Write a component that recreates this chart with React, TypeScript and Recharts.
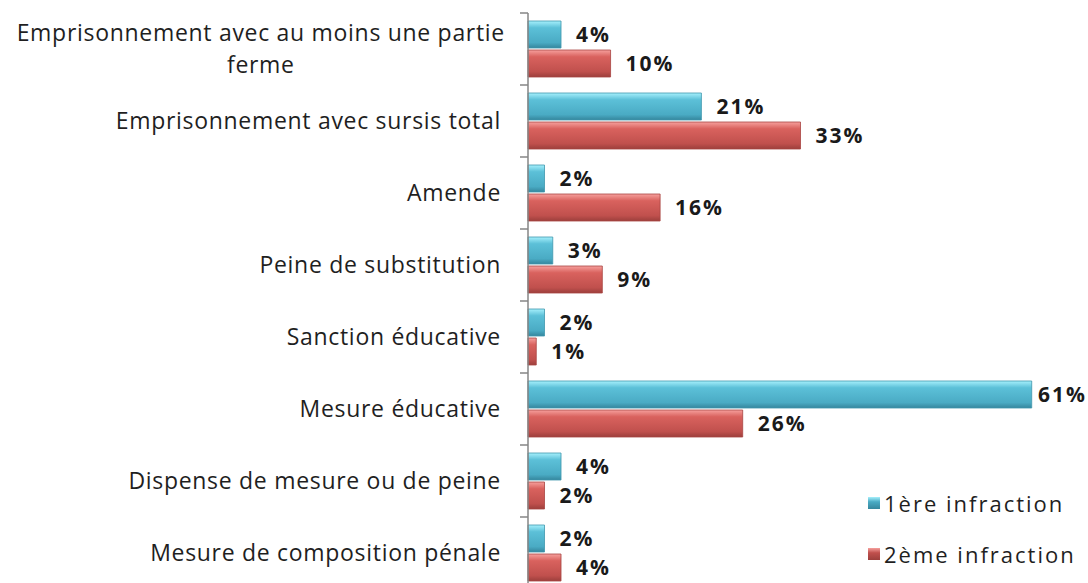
import { BarChart, Bar, XAxis, YAxis, LabelList } from 'recharts';

const categories = [
  'Emprisonnement avec au moins une partie|ferme',
  'Emprisonnement avec sursis total',
  'Amende',
  'Peine de substitution',
  'Sanction éducative',
  'Mesure éducative',
  'Dispense de mesure ou de peine',
  'Mesure de composition pénale',
];
const premiere = [4, 21, 2, 3, 2, 61, 4, 2];
const deuxieme = [10, 33, 16, 9, 1, 26, 2, 4];
const seriesNames = ['1ère infraction', '2ème infraction'];

const data = categories.map((c, i) => ({ cat: c, s1: premiere[i], s2: deuxieme[i] }));

const FONT = '"Open Sans", Lato, sans-serif';
const W = 1088;
const H = 600;
const TOP = 13;
const BOTTOM = 11;
const AXIS_X = 528;
const BAND = (H - TOP - BOTTOM) / categories.length;
const CAT_SIZE = 23;
const CAT_LS = 0.7;

let ctx: CanvasRenderingContext2D | null = null;
function textWidth(s: string, font: string, ls = 0) {
  if (!ctx) ctx = document.createElement('canvas').getContext('2d');
  if (!ctx) return s.length * 10;
  ctx.font = font;
  return ctx.measureText(s).width + ls * s.length;
}

const CatTick = ({ y, payload, index }: any) => {
  const lines: string[] = String(payload.value).split('|');
  const right = AXIS_X - 27;
  const widths = lines.map(l => textWidth(l, `${CAT_SIZE}px ${FONT}`, CAT_LS));
  const maxW = Math.max(...widths);
  const cx = right + 4 - maxW / 2;
  const top = y - BAND / 2;
  return (
    <g>
      <line x1={AXIS_X - 8} x2={AXIS_X} y1={top} y2={top} stroke="#868686" strokeWidth={1.5} />
      {index === categories.length - 1 && (
        <line x1={AXIS_X - 8} x2={AXIS_X} y1={top + BAND} y2={top + BAND} stroke="#868686" strokeWidth={1.5} />
      )}
      {lines.map((l, i) => (
        <text
          key={i}
          x={lines.length > 1 ? cx : right}
          y={y + (i - (lines.length - 1) / 2) * 32}
          dy="0.35em"
          textAnchor={lines.length > 1 ? 'middle' : 'end'}
          fill="#1f1f1f"
          fontSize={CAT_SIZE}
          letterSpacing={CAT_LS}
          fontFamily={FONT}
        >
          {l}
        </text>
      ))}
    </g>
  );
};

const ValueLabel = (props: any) => {
  const { x, y, width, height, value } = props;
  const txt = `${value}%`;
  const tw = textWidth(txt, `bold 21px ${FONT}`, 2);
  const lx = Math.min(x + width + 15, W - tw - 1);
  return (
    <text
      x={lx}
      y={y + height / 2}
      dy="0.35em"
      fill="#1a1a1a"
      fontSize={21}
      letterSpacing={2}
      fontWeight="bold"
      fontFamily={FONT}
    >
      {txt}
    </text>
  );
};

export default function App() {
  return (
    <div style={{ position: 'absolute', left: 0, top: 0, width: W, height: 583, overflow: 'hidden', background: '#fff' }}>
      <BarChart
        width={W}
        height={H}
        data={data}
        layout="vertical"
        margin={{ top: TOP, right: 15, left: 0, bottom: BOTTOM }}
        barCategoryGap={8}
        barGap={2}
      >
        <defs>
          <linearGradient id="gTeal" x1="0" y1="0" x2="0" y2="1">
            <stop offset="0%" stopColor="#a6f0fc" />
            <stop offset="25%" stopColor="#5cc0d8" />
            <stop offset="80%" stopColor="#4aabc4" />
            <stop offset="100%" stopColor="#35869d" />
          </linearGradient>
          <linearGradient id="gRed" x1="0" y1="0" x2="0" y2="1">
            <stop offset="0%" stopColor="#f6a09d" />
            <stop offset="25%" stopColor="#d9625e" />
            <stop offset="80%" stopColor="#c0504d" />
            <stop offset="100%" stopColor="#9c3f3c" />
          </linearGradient>
        </defs>
        <XAxis type="number" domain={[0, 66]} hide />
        <YAxis
          type="category"
          dataKey="cat"
          width={AXIS_X}
          axisLine={{ stroke: '#868686', strokeWidth: 1.5 }}
          tickLine={false}
          tick={<CatTick />}
          interval={0}
        />
        <Bar dataKey="s1" name={seriesNames[0]} fill="url(#gTeal)" stroke="#3f97ad" strokeWidth={0.8} isAnimationActive={false}>
          <LabelList dataKey="s1" content={<ValueLabel />} />
        </Bar>
        <Bar dataKey="s2" name={seriesNames[1]} fill="url(#gRed)" stroke="#a84441" strokeWidth={0.8} isAnimationActive={false}>
          <LabelList dataKey="s2" content={<ValueLabel />} />
        </Bar>
      </BarChart>

      {/* legend, bottom right */}
      <div style={{ position: 'absolute', left: 868, top: 489, fontFamily: FONT, fontSize: 22, color: '#1f1f1f' }}>
        {seriesNames.map((n, i) => (
          <div key={n} style={{ display: 'flex', alignItems: 'center', height: 28, marginBottom: 23 }}>
            <div
              style={{
                width: 12,
                height: 12,
                marginRight: 4,
                background: i === 0
                  ? 'linear-gradient(#a6f0fc, #4aabc4 40%, #35869d)'
                  : 'linear-gradient(#f6a09d, #c0504d 40%, #9c3f3c)',
              }}
            />
            <span style={{ letterSpacing: 2 }}>{n}</span>
          </div>
        ))}
      </div>
    </div>
  );
}
